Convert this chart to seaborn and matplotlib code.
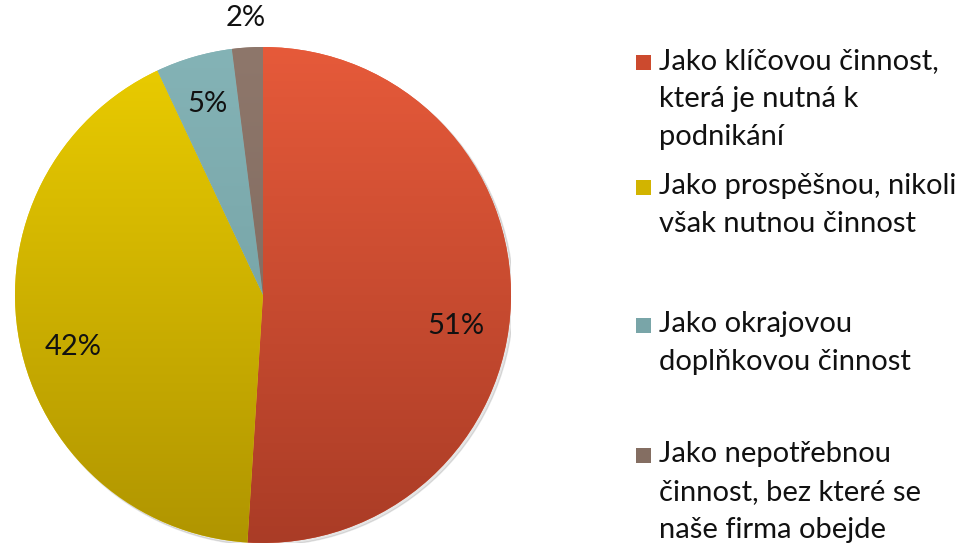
import numpy as np
import matplotlib
matplotlib.use("Agg")
import matplotlib.pyplot as plt
import seaborn as sns
from matplotlib.colors import LinearSegmentedColormap
from matplotlib.patches import Rectangle, Circle

sns.set_style("white")
plt.rcParams['font.family'] = ['Lato', 'DejaVu Sans']

# data
kategorie = [
    "Jako klíčovou činnost,\nkterá je nutná k\npodnikání",
    "Jako prospěšnou, nikoli\nvšak nutnou činnost",
    "Jako okrajovou\ndoplňkovou činnost",
    "Jako nepotřebnou\nčinnost, bez které se\nnaše firma obejde",
]
podil = [51, 42, 5, 2]
barvy_horni = ["#E65A3A", "#EBCD00", "#84B3B6", "#8E776B"]
barvy_dolni = ["#AA3C26", "#B09500", "#6E9A9D", "#7A6459"]
barvy_legenda = ["#CC4A2E", "#D2B400", "#79A5A8", "#846E62"]

fig = plt.figure(figsize=(9.6, 5.45), dpi=100)
ax = fig.add_axes([15 / 960, 2 / 545, 496 / 960, 496 / 545])

# slight shadow
ax.add_patch(Circle((0.01, -0.01), 1.0, color="#000000", alpha=0.10, zorder=0))

wedges, texts, autotexts = ax.pie(
    podil, startangle=90, counterclock=False,
    colors=barvy_horni, autopct=lambda p: f"{p:.0f}%",
    pctdistance=0.8, textprops=dict(fontsize=21, color="#111111"),
    wedgeprops=dict(linewidth=0), radius=1.0,
)

# vertical gradient fill clipped to each wedge
grad = np.linspace(0, 1, 256).reshape(-1, 1)
for w, top, bot in zip(wedges, barvy_horni, barvy_dolni):
    cmap = LinearSegmentedColormap.from_list("g", [top, bot])
    im = ax.imshow(grad, cmap=cmap, extent=[-1, 1, -1, 1], origin="upper",
                   aspect="auto", zorder=1.5)
    im.set_clip_path(w)

for t in autotexts:
    t.set_zorder(3)

# 51% label sits a bit lower, 2% outside the pie
x, y = autotexts[0].get_position()
autotexts[0].set_position((x - 0.02, y - 0.1))
x, y = autotexts[1].get_position()
autotexts[1].set_position((x + 0.02, y - 0.06))
w = wedges[3]
ang = np.deg2rad((w.theta1 + w.theta2) / 2)
autotexts[3].set_position((1.12 * np.cos(ang), 1.12 * np.sin(ang)))

ax.set_xlim(-1, 1)
ax.set_ylim(-1, 1)
ax.set_aspect("equal")
ax.axis("off")

# legend
legend_y = [62, 187, 325, 455]
for lab, barva, y in zip(kategorie, barvy_legenda, legend_y):
    fig.patches.append(Rectangle((636 / 960, 1 - (y + 8) / 545), 15 / 960, 15 / 545,
                                 transform=fig.transFigure, facecolor=barva,
                                 edgecolor="none"))
    fig.text(659 / 960, 1 - (y - 14) / 545, lab, fontsize=21, va="top", ha="left",
             color="#111111", linespacing=1.57)

fig.savefig("out.png", dpi=100, facecolor="white")
